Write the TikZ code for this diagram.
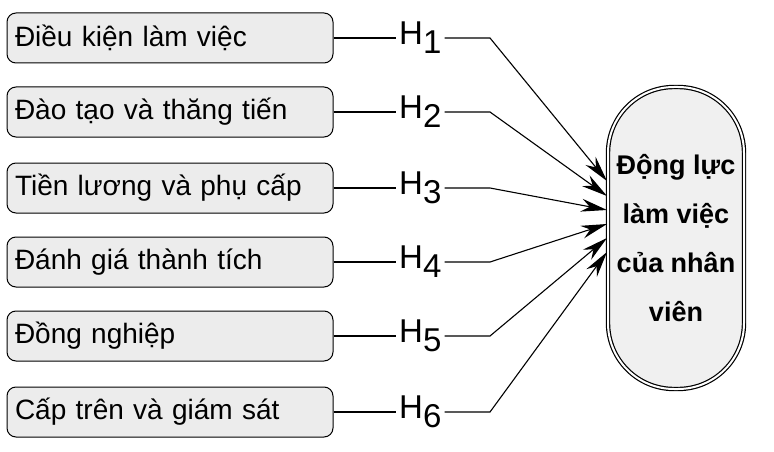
\documentclass[tikz,border=0pt]{standalone}
\usepackage{fontspec}
\setmainfont{Liberation Sans}
\usetikzlibrary{arrows.meta}
\begin{document}
\begin{tikzpicture}[x=1pt,y=-1pt,
  box/.style={draw,line width=1pt,rounded corners=9pt,fill=gray!15,minimum width=326pt,minimum height=50pt,inner sep=0pt,font=\fontsize{28}{30}\selectfont,text width=310pt,align=left},
  hl/.style={font=\fontsize{33}{35}\selectfont,inner sep=3pt},
  ln/.style={line width=1.1pt},
  ar/.style={line width=1.1pt,-{Stealth[length=26pt,width=13pt]}}]
\useasboundingbox (0,0) rectangle (774,452);
\node[draw,line width=1.2pt,double,double distance=2pt,fill=gray!12,rectangle,rounded corners=66pt,minimum width=136pt,minimum height=302pt,align=center,font=\fontsize{27}{49}\selectfont\bfseries] (m) at (676,238) {Động lực\\làm việc\\của nhân\\viên};
\foreach \i/\y/\t/\ty in {1/38/Điều kiện làm việc/181,2/112/Đào tạo và thăng tiến/196,3/188/Tiền lương và phụ cấp/210,4/262/Đánh giá thành tích/224,5/336/Đồng nghiệp/238,6/412/Cấp trên và giám sát/252}{
  \node[box] (b\i) at (170,\y) {\t};
  \node[hl,anchor=west] (h\i) at (396,\y) {H\raisebox{-9pt}{\i}};
  \coordinate (k\i) at (490,\y);
  \coordinate (t\i) at (607,\ty);
  \draw[ln] (b\i.east) -- (h\i.west);
  \draw[ar] (h\i.east) -- (k\i) -- (t\i);
}
\end{tikzpicture}
\end{document}
